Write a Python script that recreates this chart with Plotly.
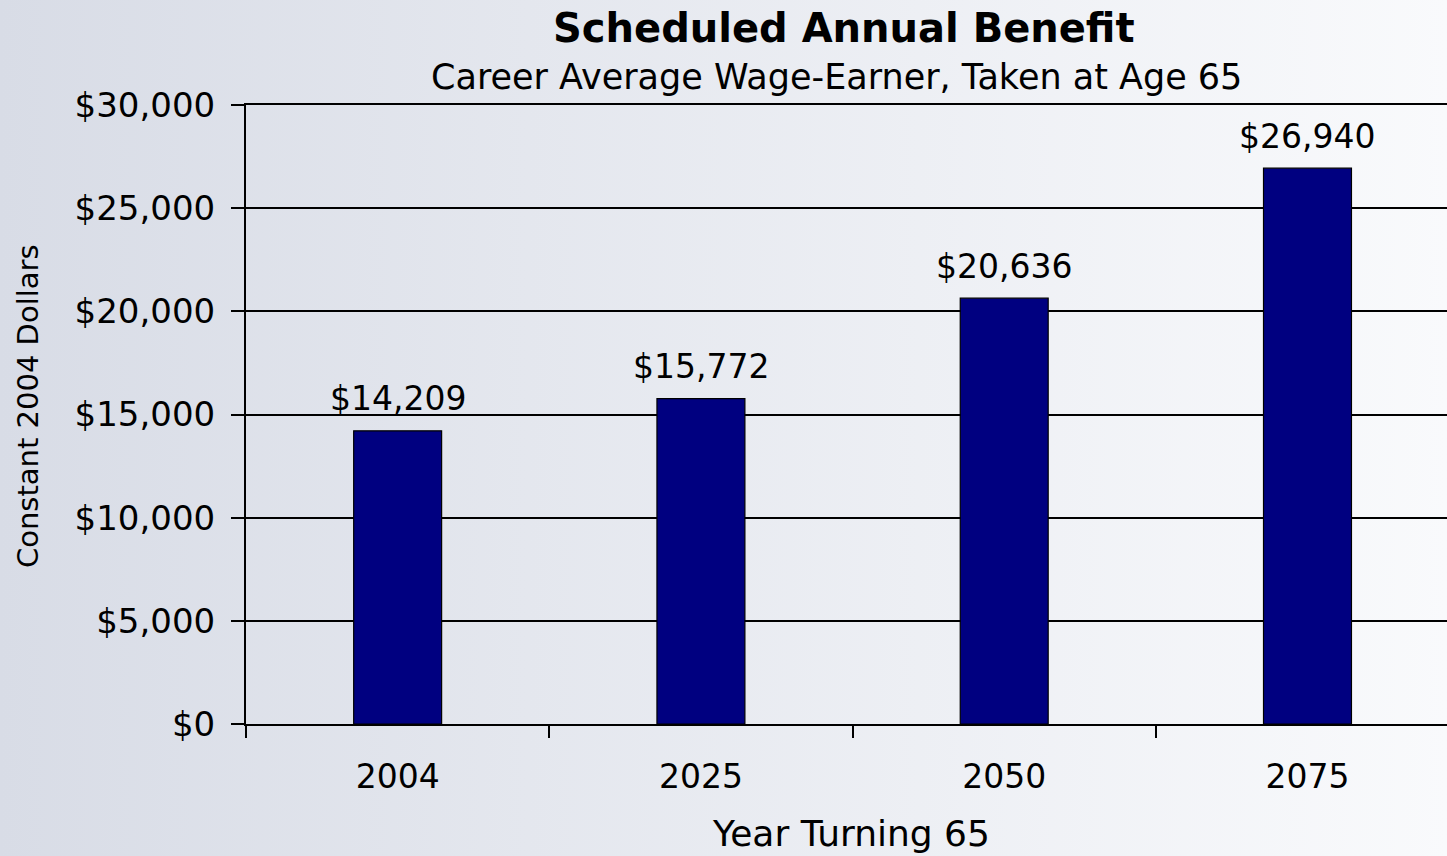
import plotly.graph_objects as go

years = ["2004", "2025", "2050", "2075"]
benefits = [14209, 15772, 20636, 26940]
y_ticks = [0, 5000, 10000, 15000, 20000, 25000, 30000]

W, H = 1447, 856
ML, MR, MT, MB = 246, 0, 105, 132
pw = W - ML - MR
ph = H - MT - MB

FONT = "DejaVu Sans"

fig = go.Figure()
fig.add_trace(go.Bar(
    x=years, y=benefits,
    width=0.29,
    marker=dict(color="#000080", line=dict(color="#000000", width=1.2)),
    hoverinfo="x+y",
))

for i, v in enumerate(benefits):
    fig.add_annotation(x=i, y=v, xref="x", yref="y", text="$" + f"{v:,}", showarrow=False,
                       yanchor="middle", yshift=32,
                       font=dict(family=FONT, size=33, color="#000000"))

svg = ("data:image/svg+xml;utf8,"
       "<svg xmlns='http://www.w3.org/2000/svg' width='100' height='100' preserveAspectRatio='none'>"
       "<defs><linearGradient id='g' x1='0' y1='0' x2='1' y2='0'>"
       "<stop offset='0' stop-color='%23d8dce6'/><stop offset='1' stop-color='%23f9fafc'/>"
       "</linearGradient></defs><rect width='100' height='100' fill='url(%23g)'/></svg>")

fig.add_layout_image(dict(
    source=svg, xref="paper", yref="paper",
    x=-ML / pw, y=1 + MT / ph,
    sizex=W / pw, sizey=H / ph,
    sizing="stretch", xanchor="left", yanchor="top", layer="below",
))

fig.update_layout(
    width=W, height=H,
    margin=dict(l=ML, r=MR, t=MT, b=MB),
    paper_bgcolor="rgba(0,0,0,0)",
    plot_bgcolor="rgba(0,0,0,0)",
    showlegend=False,
    font=dict(family=FONT, color="#000000"),
)

fig.update_xaxes(
    type="category",
    range=[-0.5, 3.46],
    showline=True, linecolor="#000000", linewidth=2, mirror=True,
    ticks="outside", tickson="boundaries", ticklen=12, tickwidth=1.5, tickcolor="#000000",
    tickfont=dict(family=FONT, size=33, color="#000000"),
    ticklabelstandoff=22,
    showgrid=False,
)
fig.update_yaxes(
    range=[0, 30000],
    tickvals=y_ticks,
    ticktext=["$" + f"{v:,}" for v in y_ticks],
    showline=True, linecolor="#000000", linewidth=2,
    ticks="outside", ticklen=13, tickwidth=1.5, tickcolor="#000000",
    tickfont=dict(family=FONT, size=34, color="#000000"),
    ticklabelstandoff=9,
    showgrid=True, gridcolor="#000000", gridwidth=1.5,
    zeroline=False,
)

fig.add_annotation(text="<b>Scheduled Annual Benefit</b>", xref="paper", yref="paper",
                   x=(844 - ML) / pw, y=1 + (MT - 28) / ph, showarrow=False,
                   font=dict(family=FONT, size=40, color="#000000"), yanchor="middle")
fig.add_annotation(text="Career Average Wage-Earner, Taken at Age 65", xref="paper", yref="paper",
                   x=(836 - ML) / pw, y=1 + (MT - 77) / ph, showarrow=False,
                   font=dict(family=FONT, size=35, color="#000000"), yanchor="middle")
fig.add_annotation(text="Year Turning 65", xref="paper", yref="paper",
                   x=(851 - ML) / pw, y=-(833 - MT - ph) / ph, showarrow=False,
                   font=dict(family=FONT, size=36, color="#000000"), yanchor="middle")
fig.add_annotation(text="Constant 2004 Dollars", xref="paper", yref="paper",
                   x=-(ML - 28) / pw, y=1 - (406 - MT) / ph, showarrow=False, textangle=-90,
                   font=dict(family=FONT, size=29, color="#000000"),
                   xanchor="center", yanchor="middle")

fig.write_html("out.html", config={"displayModeBar": False},
               post_script="document.body.style.margin='0';")
